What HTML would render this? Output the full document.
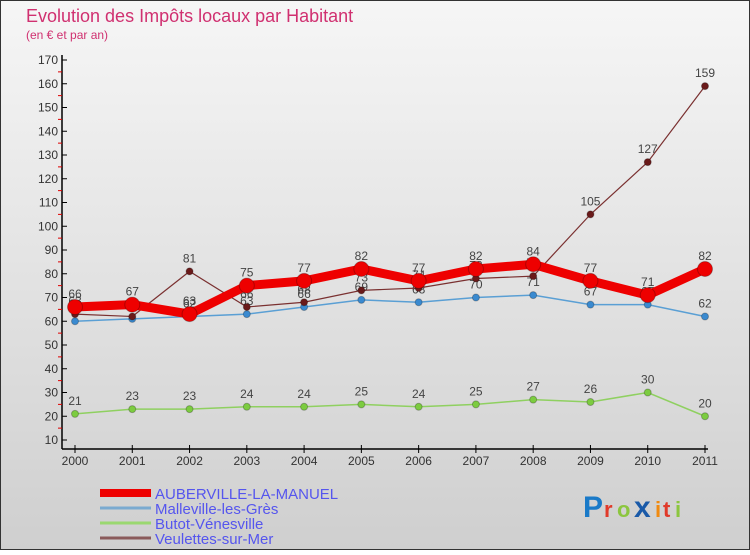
<!DOCTYPE html>
<html><head><meta charset="utf-8"><style>
body{margin:0}
svg text{font-family:"Liberation Sans",sans-serif}
</style></head><body>
<svg id="c" width="750" height="550" xmlns="http://www.w3.org/2000/svg">
<defs><linearGradient id="bg" x1="0" y1="0" x2="0" y2="1"><stop offset="0" stop-color="#f6f6f6"/><stop offset="1" stop-color="#cfcfcf"/></linearGradient></defs>
<rect x="0.5" y="0.5" width="749" height="549" fill="url(#bg)" stroke="#333"/>
<text x="26" y="22" font-size="18" fill="#d03070">Evolution des Impôts locaux par Habitant</text>
<text x="26" y="39" font-size="12" fill="#d03070">(en € et par an)</text>
<g id="axes"></g><g id="series"></g><g id="legend"></g>
<g font-size="30" font-weight="bold">
<text x="583" y="517" fill="#1a7ac8">P</text><text x="604" y="517" fill="#e03a2a" font-size="22">r</text><text x="617" y="517" fill="#8cc63f" font-size="22">o</text><text x="634" y="517" fill="#1a5aa8">x</text><text x="655" y="517" fill="#f08a10" font-size="22">i</text><text x="663" y="517" fill="#e03a2a" font-size="22">t</text><text x="675" y="517" fill="#8cc63f" font-size="22">i</text>
</g>
</svg>
<script>
const years=["2000","2001","2002","2003","2004","2005","2006","2007","2008","2009","2010","2011"];
const yTicks=[10,20,30,40,50,60,70,80,90,100,110,120,130,140,150,160,170];
const auberville=[66,67,63,75,77,82,77,82,84,77,71,82];
const malleville=[60,61,62,63,66,69,68,70,71,67,67,62];
const butot=[21,23,23,24,24,25,24,25,27,26,30,20];
const veulettes=[63,62,81,66,68,73,74,78,79,105,127,159];
const NS="http://www.w3.org/2000/svg";
const X=i=>75+i*(630/11);
const Y=v=>440-(v-10)*2.375;
function mk(t,a,p){const e=document.createElementNS(NS,t);for(const k in a)e.setAttribute(k,a[k]);p.appendChild(e);return e;}
const ax=document.getElementById('axes');
const yl=mk('line',{x1:62,y1:55,x2:62,y2:449,stroke:'#000','stroke-width':1.5},ax);


const xl=mk('line',{x1:62,y1:449,x2:708,y2:449,stroke:'#000','stroke-width':1.5},ax);


yTicks.forEach(v=>{
  mk('line',{x1:62,y1:Y(v),x2:67,y2:Y(v),stroke:'#000'},ax);
  if(v<170)mk('line',{x1:58,y1:Y(v+5),x2:62,y2:Y(v+5),stroke:'#d00'},ax);
  const t=mk('text',{x:58,y:Y(v)+4,'font-size':12,'text-anchor':'end',fill:'#333'},ax);
  t.textContent=v;
  
  
});
years.forEach((y,i)=>{
  mk('line',{x1:X(i),y1:445,x2:X(i),y2:453,stroke:'#000'},ax);
  const t=mk('text',{x:X(i),y:465,'font-size':12,'text-anchor':'middle',fill:'#333'},ax);
  t.textContent=y;
  
  
});
const sg=document.getElementById('series');
function series(data,name,color,lw,r,dot){
  const g=mk('g',{},sg);
  
  
  mk('polyline',{points:data.map((v,i)=>X(i)+','+Y(v)).join(' '),fill:'none',stroke:color,'stroke-width':lw},g);
  data.forEach((v,i)=>{
    const c=mk('circle',{cx:X(i),cy:Y(v),r:r,fill:dot,stroke:'rgba(0,0,0,0.25)'},g);
    
    
    const t=mk('text',{x:X(i),y:Y(v)-9,'font-size':12,'text-anchor':'middle',fill:'#444'},g);
    t.textContent=v;
    
    
  });
}
series(butot,'butot-series','#8fd060',1.5,3.5,'#7ccc40');
series(malleville,'malleville-series','#5a9fd4',1.5,3.5,'#3a8ad0');
series(veulettes,'veulettes-series','#7a3030',1.2,3.5,'#6a1a1a');
series(auberville,'auberville-series','#ee0000',9,7.5,'#ee0000');
const lg=document.getElementById('legend');
const items=[['AUBERVILLE-LA-MANUEL','#ee0000',8],['Malleville-les-Grès','#7aaad0',3],['Butot-Vénesville','#9ad870',3],['Veulettes-sur-Mer','#8a5a5a',3]];
items.forEach((it,k)=>{
  const y=493+k*15;
  const g=mk('g',{},lg);
  
  
  mk('line',{x1:100,y1:y,x2:151,y2:y,stroke:it[1],'stroke-width':it[2]},g);
  const t=mk('text',{x:155,y:y+6,'font-size':15,fill:'#5555ee'},g);
  t.textContent=it[0];
});
</script>
</body></html>
